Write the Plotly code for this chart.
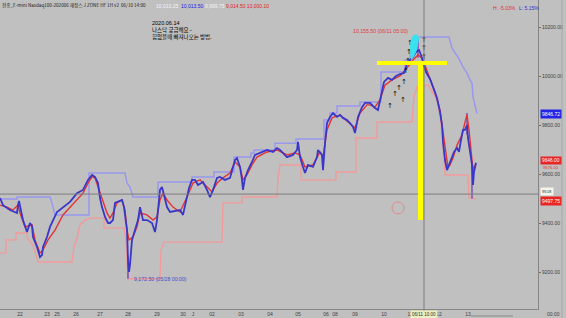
import plotly.graph_objects as go

W, H = 566, 318

# ---- data (x = hourly bar slot on the screen time axis, y = price) ----
blue_x = [0,3,10,17,18,19,21,23,27,30,32,33,37,40,42,43,47,50,57,63,70,77,83,88,92,95,98,100,102,105,
          108,110,113,115,118,122,124,127,128,129,130,132,135,138,140,143,147,152,155,157,160,162,164,167,170,174,180,183,186,189,
          192,195,198,203,207,210,213,217,220,225,230,235,237,240,242,243,245,248,252,255,260,267,273,277,280,283,287,293,297,298,
          300,303,305,308,313,317,318,322,323,325,327,330,333,337,340,343,347,350,353,355,358,362,365,370,375,378,381,384,388,392,
          396,400,404,407,410,413,416,419,421,423,426,430,433,437,440,442,443,445,447,449,451,454,457,459,461,463,465,467,468,470,
          472,473,474,476]
blue_y = [9502,9473,9453,9441,9473,9490,9450,9412,9363,9400,9388,9343,9302,9261,9269,9302,9343,9384,9445,9465,
          9486,9522,9535,9576,9596,9588,9563,9502,9465,9425,9400,9400,9412,9482,9486,9494,9465,9371,9249,9200,
          9230,9331,9371,9412,9465,9412,9412,9400,9363,9412,9535,9547,9514,9465,9445,9449,9453,9433,9494,9543,
          9576,9576,9555,9567,9535,9506,9535,9584,9588,9576,9584,9657,9665,9629,9576,9535,9584,9616,9649,9678,
          9686,9698,9690,9706,9698,9686,9669,9678,9698,9731,9669,9629,9604,9637,9629,9669,9698,9678,9616,9726,
          9808,9833,9849,9833,9841,9829,9820,9808,9792,9767,9833,9873,9890,9890,9869,9861,9922,9976,9992,9984,
          10000,10008,10012,10049,10065,10078,10098,10106,10086,10053,10016,9988,9951,9910,9853,9800,9731,9657,9616,9637,
          9665,9690,9706,9690,9739,9780,9780,9800,9747,9698,9637,9555,9608,9646]

red_x = [0,7,13,18,20,25,32,35,40,43,48,55,63,70,77,83,88,92,95,98,102,107,110,113,117,122,125,127,129,133,
         137,140,147,153,157,160,163,167,173,180,187,193,200,207,212,217,223,230,235,240,243,247,252,257,267,277,287,295,300,305,
         313,320,323,327,332,340,348,355,360,367,370,375,380,385,392,400,407,413,418,422,426,430,435,440,443,446,448,450,453,457,
         462,465,467,469,471,473,475]
red_y = [9473,9465,9453,9473,9441,9384,9392,9331,9278,9290,9331,9371,9433,9465,9494,9522,9563,9588,9584,9547,
         9494,9441,9420,9441,9482,9494,9453,9371,9331,9343,9384,9441,9433,9412,9425,9494,9522,9494,9465,9445,
         9506,9563,9576,9547,9527,9563,9584,9604,9649,9629,9576,9596,9637,9669,9690,9698,9678,9686,9678,9629,
         9637,9690,9669,9780,9829,9841,9812,9788,9849,9882,9882,9873,9902,9963,9984,10000,10033,10065,10086,10074,
         10033,9992,9935,9861,9780,9698,9625,9637,9665,9718,9759,9812,9841,9780,9698,9616,9637]

upper_x = [0,17,17,50,52,55,89,89,125,127,130,133,158,158,192,192,214,214,234,234,251,251,254,254,275,275,296,296,324,324,
           330,330,337,337,360,360,381,381,405,405,410,410,414,414,449,452,455,458,463,467,470,472,473,477]
upper_y = [9498,9498,9506,9506,9482,9433,9433,9604,9604,9563,9547,9506,9506,9567,9567,9588,9588,9608,9608,9669,
           9669,9686,9686,9698,9698,9726,9726,9743,9743,9820,9820,9849,9849,9878,9878,9894,9894,10016,10016,10065,
           10065,10106,10106,10159,10159,10114,10094,10078,10037,10012,9984,9971,9914,9846.72]

lower_x = [0,6,6,16,16,27,27,33,38,72,74,77,80,85,90,104,104,124,126,128,160,161,164,222,223,242,242,277,278,280,
           301,301,336,336,356,356,377,377,412,414,417,428,433,437,440,443,445,468,469,476]
lower_y = [9278,9278,9331,9331,9359,9359,9339,9310,9241,9241,9302,9339,9392,9412,9420,9420,9380,9380,9331,9172.5,
           9172.5,9290,9322,9322,9482,9482,9506,9506,9584,9637,9637,9576,9576,9608,9608,9747,9747,9812,9812,9914,
           9955,9963,9931,9902,9841,9731,9596,9596,9502,9497.75]

wick_bar = [128, 418, 467, 472]
wick_low = [9172.5, 10075, 9760, 9500]
wick_high = [9262, 10155.5, 9849, 9640]

arrow_bar = [390, 395, 399, 403, 404, 406, 408, 409, 410, 424, 424, 424]
arrow_price = [9878, 9927, 9950, 9900, 9975, 10018, 10061, 10098, 10135, 10147, 10114, 10078]

tick_bar = [20, 47, 57, 76, 100, 128, 157, 183, 193, 212, 241, 270, 298, 326, 335, 355, 384, 410, 439, 468]
tick_text = ["22", "23", "25", "26", "27", "28", "29", "30", "J", "02", "03", "04", "05", "06", "08", "09", "10", "11", "12", "13"]
price_ticks = [9200, 9400, 9600, 9800, 10000, 10200]

cross_bar, cross_price = 424, 9518
peak_bar, peak_price = 418, 10155.5
low_bar, low_price = 128, 9172.5
last_close, last_upper, last_lower = 9646.00, 9846.72, 9497.75

X0, X1 = 0, 538
Y0, Y1 = 9049, 10310.2

fig = go.Figure()
fig.add_trace(go.Scatter(x=upper_x, y=upper_y, mode="lines", line=dict(color="#9898ee", width=1.5)))
fig.add_trace(go.Scatter(x=lower_x, y=lower_y, mode="lines", line=dict(color="#f29a9a", width=1.4)))

wx, wy = [], []
for b, lo, hi in zip(wick_bar, wick_low, wick_high):
    wx += [b, b, None]
    wy += [lo, hi, None]
fig.add_trace(go.Scatter(x=wx, y=wy, mode="lines", line=dict(color="#7040b0", width=1.3)))
fig.add_trace(go.Scatter(x=red_x, y=red_y, mode="lines", line=dict(color="#e23434", width=1.4)))
fig.add_trace(go.Scatter(x=blue_x, y=blue_y, mode="lines", line=dict(color="#3a36c8", width=1.8)))

shapes = []
# crosshair
shapes.append(dict(type="line", xref="x", yref="y", x0=X0, x1=X1, y0=cross_price, y1=cross_price,
                   line=dict(color="#7c7c7c", width=1)))
shapes.append(dict(type="line", xref="x", yref="paper", x0=cross_bar, x1=cross_bar, y0=0, y1=1,
                   line=dict(color="#7c7c7c", width=1)))
# yellow cross
shapes.append(dict(type="line", xref="x", yref="y", x0=377, x1=447, y0=10053, y1=10053,
                   line=dict(color="#ffff00", width=4)))
shapes.append(dict(type="line", xref="x", yref="y", x0=420.5, x1=420.5, y0=10053, y1=9412,
                   line=dict(color="#ffff00", width=5)))
# cyan blob
shapes.append(dict(type="path", xref="x", yref="y",
                   path="M 411,10063 Q 408,10150 414,10168 Q 420,10175 418.5,10140 Q 417,10090 411,10063 Z",
                   fillcolor="#38e2ee", line=dict(width=0)))
# red circle
shapes.append(dict(type="circle", xref="x", yref="y", x0=392, x1=404, y0=9437, y1=9486,
                   line=dict(color="#e08a8a", width=1)))
# right border strip and bottom scroll line
shapes.append(dict(type="line", xref="paper", yref="paper", x0=562/W, x1=562/W, y0=0, y1=1,
                   line=dict(color="#a8a8a8", width=1)))
shapes.append(dict(type="line", xref="paper", yref="paper", x0=471/W, x1=513/W, y0=2/H, y1=2/H,
                   line=dict(color="#8a8a8a", width=1)))

fig.add_trace(go.Scatter(x=arrow_bar, y=arrow_price, mode="text", text=["↑"] * len(arrow_bar),
                         textfont=dict(family="DejaVu Sans", size=7, color="#000000")))

KR = "Noto Sans CJK KR, Liberation Sans, sans-serif"
NUM = "Liberation Sans, Arial, sans-serif"
ann = []
def txt(x, y, s, color="#000000", size=6, xref="paper", yref="paper", xa="left", ya="middle", bg=None, fam=NUM):
    d = dict(x=x, y=y, xref=xref, yref=yref, text=s, showarrow=False, xanchor=xa, yanchor=ya,
             font=dict(family=fam, size=size, color=color), borderpad=0)
    if bg:
        d["bgcolor"] = bg
        d["borderpad"] = 1
    ann.append(d)

# header line
txt(1/W, 1 - 6/H, "전종_E-mini Nasdaq100-202006 재정스 J ZONE HF 1H v2  06/10 14:00", "#202020", 4.6, fam=KR)
txt(155/W, 1 - 6/H, "10,013.25", "#f4f4f4", 5)
txt(180/W, 1 - 6/H, "10,013.50", "#2020e0", 5)
txt(204/W, 1 - 6/H, "9,999.75", "#f4f4f4", 5)
txt(225/W, 1 - 6/H, "9,014.50 10,000.10", "#e02020", 5)

# memo
txt(151/W, 1 - 23/H, "2020.06.14", "#000000", 5.5, fam=NUM)
txt(151/W, 1 - 30/H, "나스닥 궁금해요~", "#000000", 5.5, fam=KR)
txt(151/W, 1 - 37/H, "힘없을때 빠져나오는 방법.", "#000000", 5.5, fam=KR)

# H/L
txt(492/W, 1 - 7.5/H, "H: -5.03%", "#e03030", 5)
txt(518/W, 1 - 7.5/H, "L: 5.15%", "#3030d0", 5)

# peak / low labels
txt(409, peak_price + 28, "10,155.50 (06/11 05:00)", "#e03a3a", 5.2, xref="x", yref="y", xa="right")
txt(133, low_price - 2, "9,172.50 (05/28 00:00)", "#4848c8", 5.2, xref="x", yref="y")

# right-hand price boxes
txt(542/W, 9626, "9576.00", "#e03030", 4.2, yref="y")
txt(540/W, last_upper, "9846.72", "#ffffff", 5, yref="y", bg="#2424e6")
txt(540/W, last_close + 8, "9646.00", "#ffffff", 4.8, yref="y", bg="#e82424")
txt(540/W, cross_price + 10, "9518", "#303030", 4.2, yref="y", bg="#f4f4ea")
txt(540/W, last_lower - 6, "9497.75", "#ffffff", 5, yref="y", bg="#e82424")

# bottom crosshair time label and corner
txt(cross_bar, 4/H, "06/11 10:00", "#303030", 4.5, xref="x", xa="center", bg="#eeeec0")
txt(546/W, 4/H, "00:00", "#404040", 5)

fig.update_layout(
    width=W, height=H, margin=dict(l=0, r=0, t=0, b=0),
    paper_bgcolor="#c0c0c0", plot_bgcolor="#c0c0c0",
    showlegend=False, hovermode=False,
    shapes=shapes, annotations=ann,
    xaxis=dict(domain=[0, X1 / W], range=[X0, X1], showgrid=False, zeroline=False,
               showline=True, linecolor="#858585", linewidth=1,
               tickmode="array", tickvals=tick_bar, ticktext=tick_text, ticks="", tickangle=0,
               tickfont=dict(family=NUM, size=5, color="#404040")),
    yaxis=dict(domain=[9 / H, 1], range=[Y0, Y1], side="right", showgrid=False, zeroline=False,
               showline=True, linecolor="#858585", linewidth=1,
               tickmode="array", tickvals=price_ticks, ticktext=[f"{v:.2f}" for v in price_ticks],
               ticks="outside", ticklen=2, tickcolor="#707070",
               tickfont=dict(family=NUM, size=5, color="#404040")),
)

fig.write_html("out.html")
